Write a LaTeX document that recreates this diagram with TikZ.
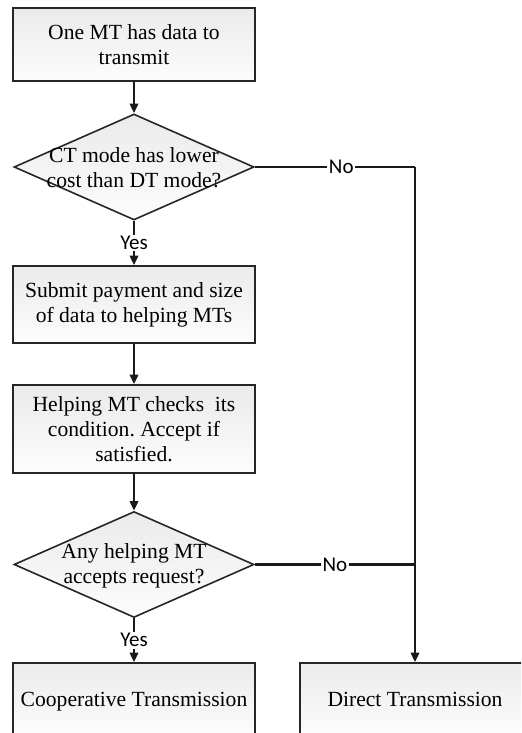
\documentclass[tikz,border=0pt]{standalone}
\usepackage{fontspec}
\setmainfont{Liberation Serif}
\newfontfamily\labelfont{Carlito}
\usepackage{tikz}
\usetikzlibrary{shapes.geometric}
\usetikzlibrary{arrows.meta}
\frenchspacing

\begin{document}
\begin{tikzpicture}[x=0.5pt, y=-0.5pt,
	box/.style={draw=black!85, line width=0.8pt, top color=black!8, bottom color=black!1, minimum width=121pt, align=center, inner sep=0pt, font=\fontsize{10.8}{12.6}\selectfont},
	decision/.style={shape=diamond, draw=black!85, line width=0.8pt, top color=black!8, bottom color=black!1, minimum width=120pt, minimum height=53pt, inner sep=0pt},
	dectext/.style={align=center, inner sep=0pt, font=\fontsize{10.8}{12.6}\selectfont},
	wire/.style={draw=black!90, line width=1.1pt},
	flow/.style={wire, -{Triangle[width=4.2pt, length=4.8pt]}},
	yesno/.style={fill=white, inner sep=0.8pt, font=\labelfont\fontsize{10.5}{12}\selectfont}]
			\useasboundingbox (0,0) rectangle (521,733);
			\clip (0,0) rectangle (521,733);
			% Boxes, diamonds and wires:
			\node[box, minimum height=36.5pt](Box1) at (134, 44.5){One MT has data to\\transmit};
			\node[decision](Diamond1) at (134, 167){};
			\node[dectext](Diamond1text) at (134, 168){CT mode has lower\\cost than DT mode?};
			\node[box, minimum height=38.5pt](Box2) at (134, 304.5){Submit payment and size\\of data to helping MTs};
			\node[box, minimum height=44pt](Box3) at (134, 429){Helping MT checks \ its\\condition. Accept if\\satisfied.};
			\node[decision](Diamond2) at (134, 564.5){};
			\node[dectext](Diamond2text) at (134, 566){Any helping MT\\accepts request?};
			\node[box, minimum height=36pt, text height=7pt, text depth=0pt](Coop) at (134, 699){Cooperative Transmission};
			\node[box, minimum height=36pt, text height=7pt, text depth=0pt, minimum width=115pt](Direct) at (415, 699){Direct Transmission};
			\coordinate (Corner) at (415, 167);
			\coordinate (Join) at (415, 564.5);
			\draw[flow] (Box1.south) -- (Diamond1.north);
			\draw[flow] (Diamond1.south) -- node[yesno]{Yes} (Box2.north);
			\draw[flow] (Box2.south) -- (Box3.north);
			\draw[flow] (Box3.south) -- (Diamond2.north);
			\draw[flow] (Diamond2.south) -- node[yesno]{Yes} (Coop.north);
			\draw[wire] (Diamond1.east) -- node[yesno, pos=0.54]{No} (Corner);
			\draw[wire] (Diamond2.east) -- node[yesno, pos=0.5]{No} (Join);
			\draw[flow] (Corner) -- (Direct.north);
		\end{tikzpicture}
\end{document}
